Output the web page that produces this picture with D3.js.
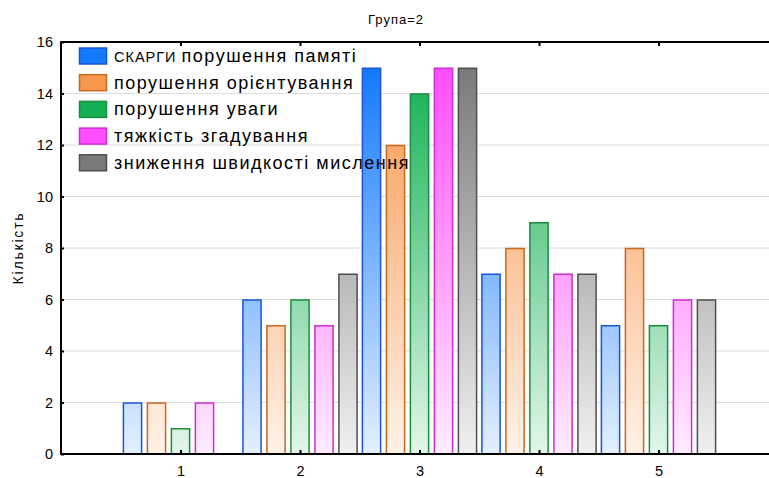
<!DOCTYPE html>
<html>
<head>
<meta charset="utf-8">
<script src="https://cdn.jsdelivr.net/npm/d3@7/dist/d3.min.js"></script>
<style>
  html, body { margin: 0; padding: 0; background: #fff; }
  svg { display: block; font-family: "Liberation Sans", Arial, sans-serif; }
</style>
</head>
<body>
<svg id="chart" width="769" height="478"></svg>
<script>
const title = "Група=2";
const yLabel = "Кількість";
const categories = [1, 2, 3, 4, 5];
const seriesNames = [
  "СКАРГИ порушення памяті",
  "порушення орієнтування",
  "порушення уваги",
  "тяжкість згадування",
  "зниження швидкості мислення"
];
const memory      = [2, 6, 15, 7, 5];
const orientation = [2, 5, 12, 8, 8];
const attention   = [1, 6, 14, 9, 5];
const recall      = [2, 5, 15, 7, 6];
const speed       = [0, 7, 15, 7, 6];
const seriesValues = [memory, orientation, attention, recall, speed];
const yTicks = [0, 2, 4, 6, 8, 10, 12, 14, 16];

const colors = [
  { top: "#1479ff", bottom: "#e4f0ff", stroke: "#1a55d6" },
  { top: "#f8984e", bottom: "#fff2e8", stroke: "#c9681f" },
  { top: "#12b053", bottom: "#e4f6ea", stroke: "#1b8e3c" },
  { top: "#ff4dff", bottom: "#ffecff", stroke: "#cc2fd0" },
  { top: "#7a7a7a", bottom: "#f0f0f0", stroke: "#4f4f4f" }
];

const svg = d3.select("#chart");
const mLeft = 61, mTop = 42, mBottom = 454;

const x = d3.scaleLinear().domain([0, 6]).range([mLeft, 778]);
const y = d3.scaleLinear().domain([0, 16]).range([mBottom, mTop]);
const sub = d3.scaleBand().domain(d3.range(seriesNames.length))
  .range([-60, 60]).paddingInner(0.2).paddingOuter(0.1);

const defs = svg.append("defs");
colors.forEach((c, i) => {
  const g = defs.append("linearGradient").attr("id", "grad" + i)
    .attr("gradientUnits", "userSpaceOnUse")
    .attr("x1", 0).attr("x2", 0).attr("y1", y(15)).attr("y2", mBottom);
  g.append("stop").attr("offset", "0%").attr("stop-color", c.top);
  g.append("stop").attr("offset", "100%").attr("stop-color", c.bottom);
});

// grid
svg.append("g").selectAll("line").data(yTicks.filter(d => d > 0 && d < 16)).join("line")
  .attr("x1", mLeft).attr("x2", 769)
  .attr("y1", d => y(d)).attr("y2", d => y(d))
  .attr("stroke", "#dcdcdc").attr("stroke-width", 1);

// bars
const groups = svg.append("g").selectAll("g").data(seriesValues).join("g");
groups.each(function(vals, si) {
  d3.select(this).selectAll("rect").data(vals.map((v, ci) => ({ v, c: categories[ci] })).filter(d => d.v > 0))
    .join("rect")
    .attr("x", d => x(d.c) + sub(si) + 0.5)
    .attr("y", d => y(d.v) + 0.5)
    .attr("width", sub.bandwidth() - 1)
    .attr("height", d => y(0) - y(d.v) - 0.5)
    .attr("fill", "url(#grad" + si + ")")
    .attr("stroke", colors[si].stroke)
    .attr("stroke-width", 1.5);
});

// axes
const xAxisB = d3.axisBottom(x).tickValues(categories).tickSize(-4).tickPadding(12).tickFormat(d3.format("d"));
const gxb = svg.append("g").attr("transform", `translate(0,${mBottom})`).call(xAxisB);
const xAxisT = d3.axisTop(x).tickValues(categories).tickSize(-4).tickFormat("");
const gxt = svg.append("g").attr("transform", `translate(0,${mTop})`).call(xAxisT);
const yAxis = d3.axisLeft(y).tickValues(yTicks).tickSize(-3).tickPadding(8).tickFormat(d3.format("d"));
const gy = svg.append("g").attr("transform", `translate(${mLeft},0)`).call(yAxis);

[gxb, gxt, gy].forEach(g => {
  g.select(".domain").remove();
  g.selectAll(".tick line").attr("stroke", "#000").attr("stroke-width", 2);
  g.selectAll("text").attr("fill", "#000").style("font-size", "14.5px")
    .style("font-family", "'Liberation Sans', Arial, sans-serif");
});

// frame lines
svg.append("line").attr("x1", mLeft - 1).attr("x2", 769).attr("y1", mBottom).attr("y2", mBottom)
  .attr("stroke", "#000").attr("stroke-width", 2);
svg.append("line").attr("x1", mLeft - 1).attr("x2", 769).attr("y1", mTop).attr("y2", mTop)
  .attr("stroke", "#000").attr("stroke-width", 2);
svg.append("line").attr("x1", mLeft).attr("x2", mLeft).attr("y1", mTop - 1).attr("y2", mBottom + 1)
  .attr("stroke", "#000").attr("stroke-width", 2);

// title
svg.append("text").attr("x", 396).attr("y", 24).attr("text-anchor", "middle")
  .style("font-size", "13px").style("letter-spacing", "1px").text(title);

// y label
svg.append("text").attr("transform", `translate(23,${(mTop + mBottom) / 2}) rotate(-90)`)
  .attr("text-anchor", "middle").style("font-size", "14px").style("letter-spacing", "1.8px").text(yLabel);

// legend
const legend = svg.append("g");
seriesNames.forEach((name, i) => {
  const cy = 56 + i * 26.7;
  legend.append("rect").attr("x", 79.5).attr("y", cy - 8).attr("width", 27).attr("height", 16)
    .attr("fill", colors[i].top).attr("stroke", colors[i].stroke).attr("stroke-width", 1.5);
  const t = legend.append("text").attr("x", 114).attr("y", cy + 6)
    .style("font-size", "18px").style("letter-spacing", "1.5px");
  if (i === 0) {
    const parts = name.split(" ");
    t.append("tspan").style("font-size", "14.5px").style("letter-spacing", "1px").text(parts[0] + " ");
    t.append("tspan").text(parts.slice(1).join(" "));
  } else {
    t.text(name);
  }
});
</script>
</body>
</html>
